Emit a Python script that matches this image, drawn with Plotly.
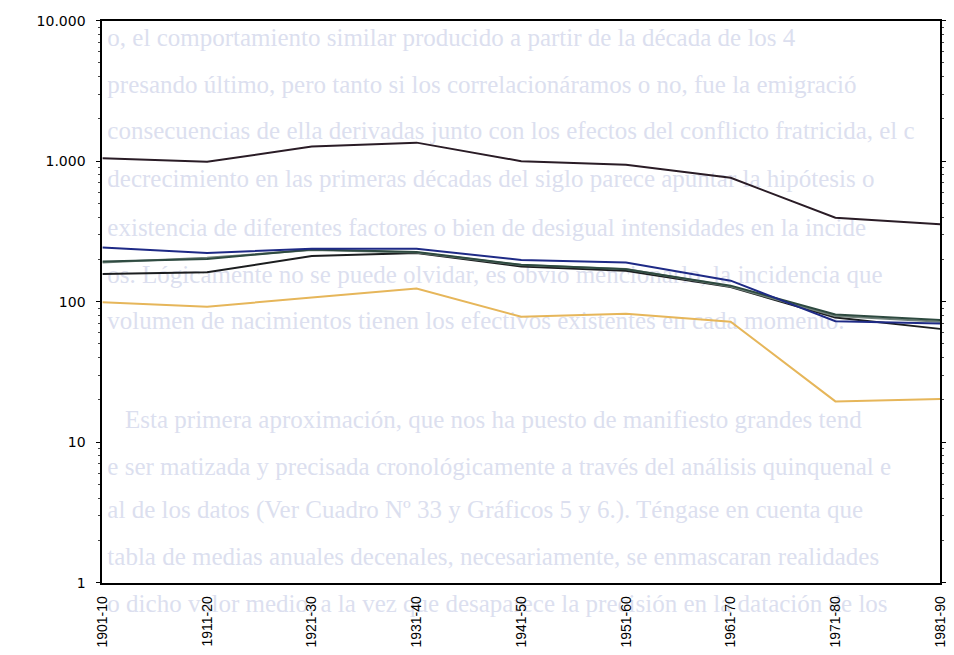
import plotly.graph_objects as go

# Decades on the horizontal axis
periods = ["1901-10", "1911-20", "1921-30", "1931-40", "1941-50",
           "1951-60", "1961-70", "1971-80", "1981-90"]

# Series values (log scale)
serie_total = [1050, 990, 1270, 1355, 1000, 942, 762, 396, 355]
serie_azul = [243, 222, 238, 238, 198, 190, 141, 72.6, 70]
serie_verde = [193, 201, 235, 226, 183, 170, 130, 81, 74]
serie_gris = [190, 205, 233, 224, 182, 171, 128, 79, 72]
serie_negra = [157, 162, 211, 222, 178, 166, 127, 77, 64]
serie_ocre = [99, 92, 107, 124, 78, 82, 72, 19.5, 20.3]

# Y axis tick labels
y_ticks = [1, 10, 100, 1000, 10000]
y_labels = ["1", "10", "100", "1.000", "10.000"]

# Text of the facing page, printed faintly behind the graph
page_lines = [
    "o, el comportamiento similar producido a partir de la década de los 4",
    "presando último, pero tanto si los correlacionáramos o no, fue la emigració",
    "consecuencias de ella derivadas junto con los efectos del conflicto fratricida, el c",
    "decrecimiento en las primeras décadas del siglo parece apuntar la hipótesis o",
    "existencia de diferentes factores o bien de desigual intensidades en la incide",
    "os. Lógicamente no se puede olvidar, es obvio mencionarlo, la incidencia que",
    "volumen de nacimientos tienen los efectivos existentes en cada momento.",
    "Esta primera aproximación, que nos ha puesto de manifiesto grandes tend",
    "e ser matizada y precisada cronológicamente a través del análisis quinquenal e",
    "al de los datos (Ver Cuadro Nº 33 y Gráficos 5 y 6.). Téngase en cuenta que",
    "tabla de medias anuales decenales, necesariamente, se enmascaran realidades",
    "o dicho valor medio, a la vez que desaparece la precisión en la datación de los",
]
page_x = [98, 98, 98, 98, 98, 98, 98, 116, 98, 98, 98, 98]
page_y = [35, 83, 130, 180, 230, 278, 325, 427, 475, 520, 567, 615]

W, H = 954, 655
fig = go.Figure()

series = [
    (serie_total, "#2a1c26"),
    (serie_ocre, "#e6b65a"),
    (serie_negra, "#1b1d1f"),
    (serie_gris, "#6f817a"),
    (serie_verde, "#2e4a40"),
    (serie_azul, "#1e2a86"),
]
for vals, color in series:
    fig.add_trace(go.Scatter(
        x=periods, y=vals, mode="lines",
        line=dict(color=color, width=2),
        showlegend=False,
    ))

# Page text as labels of invisible paper shapes, kept beneath the lines
label_shift = 8
for txt, px, py in zip(page_lines, page_x, page_y):
    cy = py - label_shift
    fig.add_shape(
        type="rect", xref="paper", yref="paper", layer="below",
        x0=px / W, x1=1, y0=1 - (cy + 18) / H, y1=1 - (cy - 18) / H,
        line=dict(width=0), fillcolor="rgba(0,0,0,0)",
        label=dict(text=txt, textposition="middle left", padding=0,
                   font=dict(family="Liberation Serif", size=25,
                             color="#dcdfef")),
    )

minor_vals = [m * 10 ** e for e in range(4) for m in range(2, 10)]

fig.update_layout(
    width=W, height=H,
    margin=dict(l=0, r=0, t=0, b=0),
    paper_bgcolor="white", plot_bgcolor="rgba(0,0,0,0)",
    xaxis=dict(
        domain=[96 / W, 948 / W], type="category",
        range=[0, len(periods) - 1],
        showline=True, linecolor="black", linewidth=2, mirror=True,
        showgrid=False, zeroline=False, ticks="", tickangle=-90,
        tickfont=dict(family="Liberation Sans", size=14, color="black"),
        ticklabelstandoff=6,
    ),
    yaxis=dict(
        domain=[1 - 589 / H, 1 - 13 / H], type="log",
        range=[0, 4], tickvals=y_ticks, ticktext=y_labels,
        showline=True, linecolor="black", linewidth=2, mirror="ticks",
        showgrid=False, zeroline=False,
        ticks="outside", ticklen=4, tickcolor="black", tickwidth=1,
        minor=dict(tickvals=minor_vals, ticks="outside", ticklen=2,
                   tickcolor="#444", tickwidth=1, showgrid=False),
        tickfont=dict(family="DejaVu Sans", size=14, color="black"),
        ticklabelstandoff=8,
    ),
)

fig.write_html("out.html")
